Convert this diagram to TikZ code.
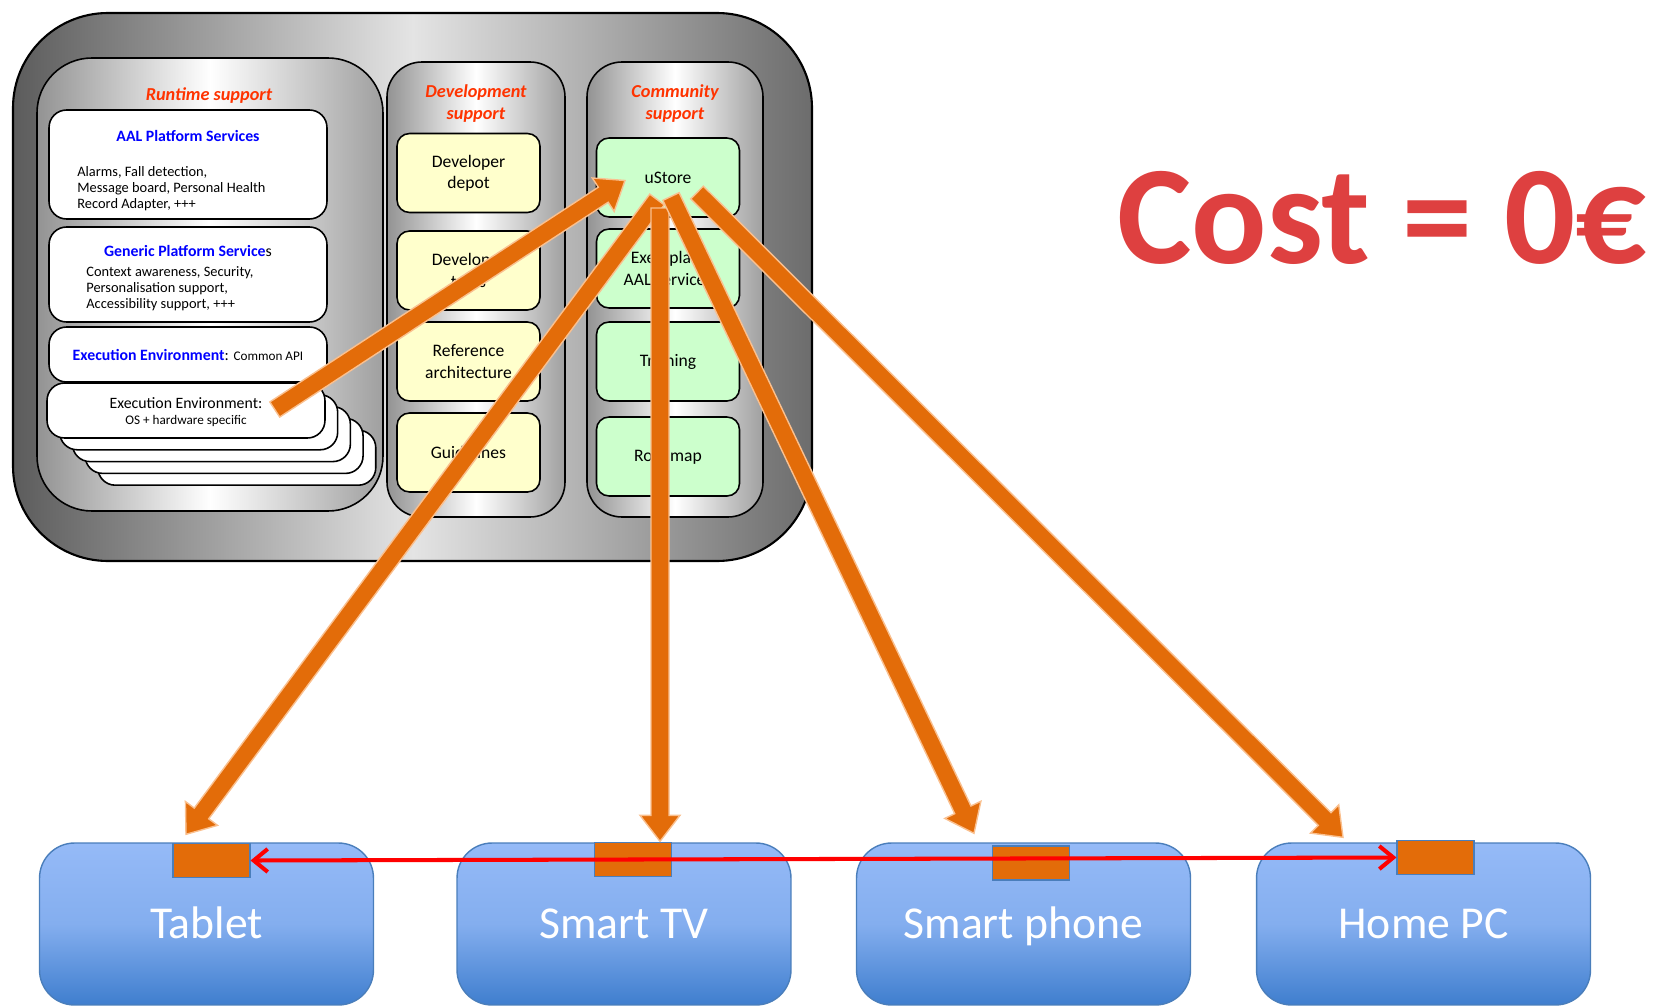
\documentclass[tikz,border=0pt]{standalone}
\usepackage{fontspec}
\setmainfont{Carlito}
\usetikzlibrary{arrows.meta,calc}

\definecolor{titlered}{RGB}{255,51,0}
\definecolor{feedfill}{RGB}{227,108,9}
\definecolor{feededge}{RGB}{250,192,143}
\definecolor{devtop}{RGB}{149,186,247}
\definecolor{devbot}{RGB}{63,126,206}
\definecolor{devedge}{RGB}{74,126,187}
\definecolor{depotfill}{RGB}{255,255,204}
\definecolor{storefill}{RGB}{204,255,204}
\definecolor{costred}{RGB}{222,64,64}
\definecolor{outerdark}{RGB}{92,92,92}
\definecolor{outerlight}{RGB}{228,228,228}

\newcommand{\feedarrow}[2]{%
\path (#1) coordinate (ft);
\path (#2) coordinate (fh);
\path ($(fh)!0.52cm!(ft)$) coordinate (fn);
\filldraw[fill=feedfill,draw=feededge,line width=0.8pt,line join=miter]
($(ft)!0.18cm!90:(fh)$) -- ($(fn)!0.18cm!90:(fh)$) -- ($(fn)!0.4cm!90:(fh)$) -- (fh)
-- ($(fn)!0.4cm!-90:(fh)$) -- ($(fn)!0.18cm!-90:(fh)$) -- ($(ft)!0.18cm!-90:(fh)$) -- cycle;
}

\begin{document}
\begin{tikzpicture}[x=0.02cm,y=-0.02cm,
panel/.style={draw=black,line width=0.9pt,left color=gray!85,right color=gray!75,middle color=white},
layer/.style={draw=black,line width=0.9pt,fill=white,rounded corners=0.35cm,minimum width=5.56cm,inner sep=0pt},
depot/.style={draw=black,line width=0.9pt,fill=depotfill,rounded corners=0.25cm,minimum width=2.86cm,minimum height=1.58cm,align=center,font=\fontsize{10}{12}\selectfont},
store/.style={depot,fill=storefill},
heading/.style={text=titlered,align=center,font=\fontsize{10.4}{12.5}\selectfont\bfseries\itshape},
device/.style={draw=devedge,line width=0.8pt,rounded corners=0.7cm,top color=devtop,bottom color=devbot,middle color=devtop!80!devbot,minimum width=6.68cm,minimum height=3.24cm,text=white,font=\fontsize{26}{30}\selectfont,text height=17pt,text depth=0pt},
port/.style={draw=devedge,line width=0.6pt,fill=feedfill,minimum width=1.54cm,minimum height=0.68cm,inner sep=0pt}]
\useasboundingbox (0,0) rectangle (1653,1007);

\draw[line width=1.2pt,rounded corners=1.9cm,left color=outerdark,right color=outerdark!90!white,middle color=outerlight] (13,13) rectangle (812,561);
\draw[panel,rounded corners=1.1cm] (37,58) rectangle (383,511);
\draw[panel,rounded corners=0.7cm] (387,62) rectangle (565,517);
\draw[panel,rounded corners=0.7cm] (587,62) rectangle (763,517);

\node[heading] (rtitle) at (209,96) {Runtime support};
\node[heading] (dtitle) at (476,104) {Development\\support};
\node[heading] (ctitle) at (675,104) {Community\\support};

\node[layer,minimum height=2.18cm] (aal) at (188,164.5) {};
\node[text=blue,font=\fontsize{9}{11}\selectfont\bfseries] (aaltitle) at (188,136) {AAL Platform Services};
\node[anchor=west,align=left,inner sep=0pt,font=\fontsize{8.2}{9.1}\selectfont] (aaltext) at (77,189) {Alarms, Fall detection,\\Message board, Personal Health\\Record Adapter, +++};

\node[layer,minimum height=1.9cm] (generic) at (188,274.5) {};
\node[font=\fontsize{9}{11}\selectfont] (generictitle) at (188,251) {{\bfseries\color{blue}Generic Platform Service}s};
\node[anchor=west,align=left,inner sep=0pt,font=\fontsize{8.2}{9.1}\selectfont] (generictext) at (86,289) {Context awareness, Security,\\Personalisation support,\\Accessibility support, +++};

\node[layer,minimum height=1.1cm] (commonapi) at (188,354.5) {};
\node[font=\fontsize{9}{11}\selectfont] (apitext) at (188,355) {{\bfseries\color{blue}Execution Environment}: {\fontsize{7.5}{9}\selectfont Common API}};

\foreach \k in {4,3,2,1}
\node[layer,minimum height=1.1cm] (osstack\k) at ({186+12.7*\k},{410.5+11.8*\k}) {};
\node[layer,minimum height=1.1cm] (osenv) at (186,410.5) {};
\node[font=\fontsize{9}{11}\selectfont] (ostext) at (186,403) {Execution Environment:};
\node[font=\fontsize{7.5}{9}\selectfont] (osspec) at (186,421) {OS + hardware specific};

\foreach \nm/\y/\txt in {depot/173/{Developer\\depot},tools/270.5/{Developer\\tools},refarch/361.5/{Reference\\architecture},guide/452.5/Guidelines}
\node[depot] (\nm) at (468.5,\y) {\txt};
\foreach \nm/\y/\txt in {ustore/177.5/uStore,exemplar/268.5/{Exemplary\\AAL services},training/361.5/Training,roadmap/456.5/Roadmap}
\node[store] (\nm) at (668,\y) {\txt};

\node[text=costred,font=\fontsize{80}{90}\selectfont\bfseries,anchor=base,inner sep=0pt] (cost) at (1382,263) {Cost = 0€};

\node[device] (tablet) at (206.5,924) {Tablet};
\node[device] (tv) at (624,924) {Smart TV};
\node[device] (phone) at (1023.5,924) {Smart phone};
\node[device] (pc) at (1423.5,924) {Home PC};

\node[port] (tabletport) at (211.5,860.5) {};
\node[port] (tvport) at (633,859.5) {};
\node[port] (phoneport) at (1031,863) {};
\node[port] (pcport) at (1435.5,857.5) {};

\draw[red,line width=2.3pt,{Straight Barb[length=0.28cm,width=0.46cm]}-{Straight Barb[length=0.28cm,width=0.46cm]}] (tabletport.east) -- (pcport.west);

\feedarrow{$(osenv.east)+(-51,-1)$}{$(ustore)+(-43,3)$}
\feedarrow{$(ustore)+(-11,22)$}{$(tablet.north)+(-20.5,-8)$}
\feedarrow{$(ustore)+(-8,30.5)$}{$(tv.north)+(36,-1)$}
\feedarrow{$(ustore)+(3,19)$}{$(phone.north)+(-49.5,-9)$}
\feedarrow{$(ustore)+(29,15)$}{$(pc.north)+(-80.5,-5)$}
\end{tikzpicture}
\end{document}
